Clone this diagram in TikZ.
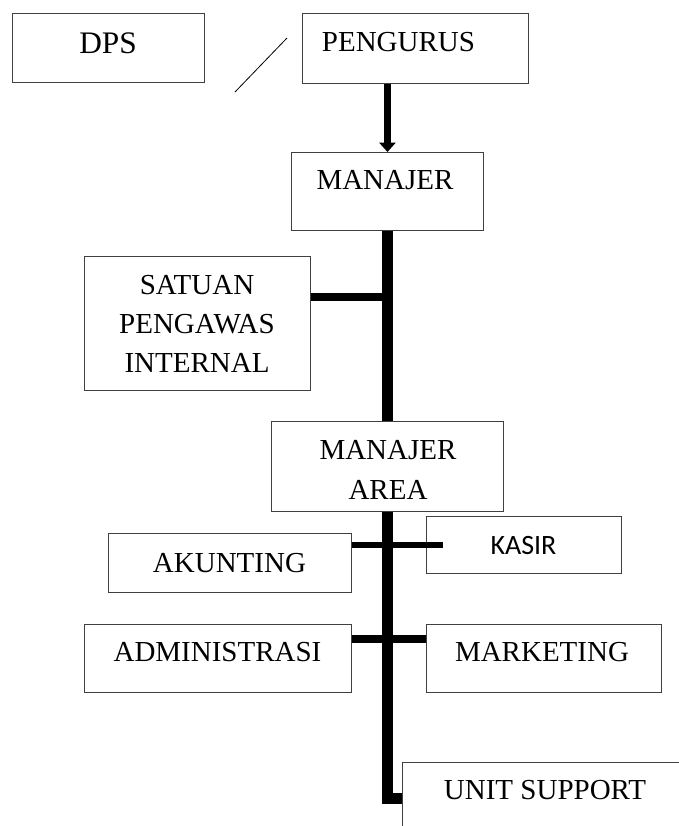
\documentclass[tikz,border=0pt]{standalone}
\usepackage{fontspec}
\setmainfont{Liberation Serif}
\newfontfamily\calfont{Carlito}
\usetikzlibrary{arrows.meta}
\begin{document}
\begin{tikzpicture}[x=0.75pt,y=-0.75pt,
  box/.style={draw=black!75, line width=0.7pt, fill=white, rectangle, inner sep=0pt, anchor=north west},
  lbl/.style={inner sep=0pt, font=\fontsize{21.75}{29.25}\selectfont, align=center},
  link/.style={line width=6pt},
  trunk/.style={line width=7.8pt}
]
\useasboundingbox (0,0) rectangle (679,826);
\clip (0,0) rectangle (679,826);

% boxes
\node[box, minimum width=192*0.75pt, minimum height=69*0.75pt] (dps) at (12,13) {};
\node[box, minimum width=226*0.75pt, minimum height=70*0.75pt] (pengurus) at (302,13) {};
\node[box, minimum width=192*0.75pt, minimum height=78*0.75pt] (manajer) at (291,152) {};
\node[box, minimum width=226*0.75pt, minimum height=134*0.75pt] (satuan) at (84,256) {};
\node[box, minimum width=232*0.75pt, minimum height=90*0.75pt] (area) at (271,421) {};
\node[box, minimum width=195*0.75pt, minimum height=57*0.75pt] (kasir) at (426,516) {};
\node[box, minimum width=243*0.75pt, minimum height=59*0.75pt] (akunting) at (108,533) {};
\node[box, minimum width=267*0.75pt, minimum height=68*0.75pt] (admin) at (84,624) {};
\node[box, minimum width=235*0.75pt, minimum height=68*0.75pt] (marketing) at (426,624) {};
\node[box, minimum width=286*0.75pt, minimum height=72*0.75pt] (unit) at (402,762) {};

% texts
\node[lbl, font=\fontsize{23.5}{29}\selectfont, anchor=base] (dpsT) at (108,53) {DPS};
\node[lbl, anchor=base] (pengurusT) at (398.5,51) {PENGURUS};
\node[lbl, anchor=base] (manajerT) at (385,189) {MANAJER};
\node[lbl, anchor=north] (satuanT) at (197,275) {SATUAN\\PENGAWAS\\INTERNAL};
\node[lbl, font=\fontsize{21.75}{30}\selectfont, anchor=north] (areaT) at (388,440) {MANAJER\\AREA};
\node[lbl, font=\calfont\fontsize{21}{26}\selectfont, anchor=base] (kasirT) at (523.5,554) {KASIR};
\node[lbl, anchor=base] (akuntingT) at (229.5,572) {AKUNTING};
\node[lbl, anchor=base] (adminT) at (217.5,661) {ADMINISTRASI};
\node[lbl, anchor=base] (marketingT) at (542,661) {MARKETING};
\node[lbl, anchor=base] (unitT) at (545,799) {UNIT SUPPORT};

% free diagonal stroke
\coordinate (d1) at (287,38);
\coordinate (d2) at (235,92);
\draw[line width=0.6pt] (d1) -- (d2);

% arrow pengurus -> manajer
\draw[line width=5.8pt, -{Triangle[width=12pt,length=7pt]}] (pengurus.south -| manajer.north) -- (manajer.north);

% trunk
\draw[trunk] (manajer.south) -- (area.north);
\draw[trunk, line join=miter] (area.south) |- (unit.west);

% junctions
\coordinate (j1) at (387,297);
\coordinate (j2) at (387,545);
\coordinate (k2) at (443,545);
\coordinate (j3) at (387,639);
\draw[link] (satuan.east |- j1) -- (j1);
\draw[line width=5pt] (akunting.east |- j2) -- (k2);
\draw[link] (admin.east |- j3) -- (marketing.west |- j3);
\end{tikzpicture}
\end{document}
